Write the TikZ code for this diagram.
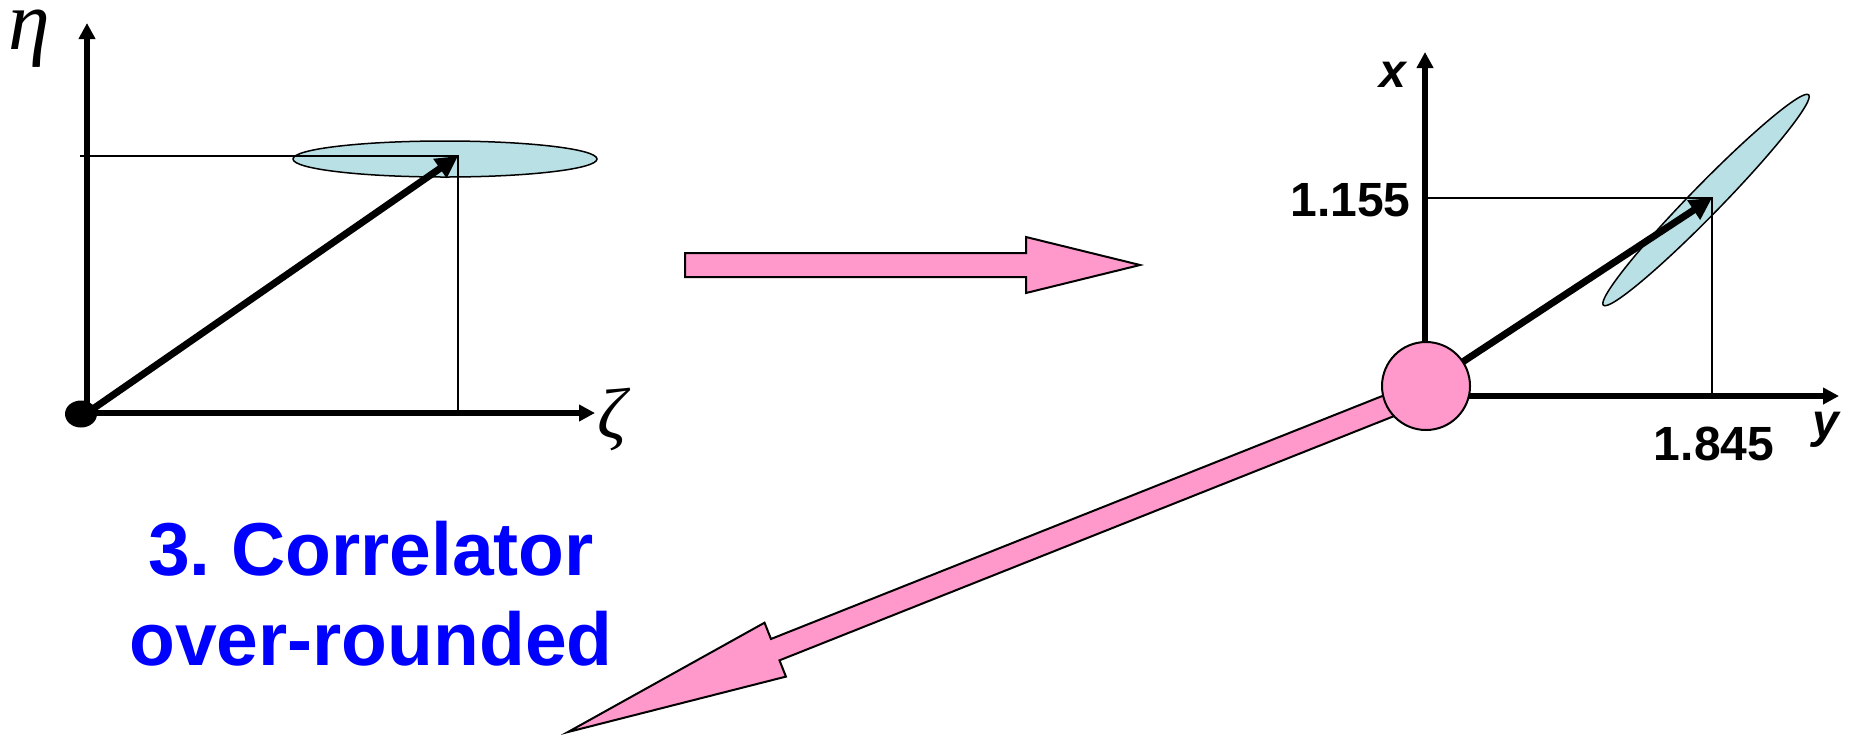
\documentclass[tikz,border=0pt]{standalone}
\usepackage{fontspec}
\setmainfont{Liberation Sans}
\newfontfamily\gregofont{Liberation Serif}
\usetikzlibrary{arrows.meta, calc}

\definecolor{rosa}{RGB}{255,153,204}
\definecolor{ciano}{RGB}{185,224,228}
\definecolor{azul}{RGB}{0,0,255}
\frenchspacing

\begin{document}
\begin{tikzpicture}[
      x=0.5pt, y=-0.5pt,
      eixo/.style={line width=2.75pt, -{Triangle[length=8pt, width=8pt]}},
      vetor/.style={line width=3.5pt, -{Triangle[length=11pt, width=11pt]}},
      fina/.style={line width=0.75pt},
      mancha/.style={draw, fill=ciano, line width=0.75pt},
      bloco/.style={draw, fill=rosa, line width=1pt, line join=miter},
      rotulo/.style={font=\fontsize{24}{28}\selectfont\bfseries, inner sep=0pt},
      grego/.style={font=\fontsize{36}{40}\selectfont\gregofont\itshape, inner sep=0pt},
      titulo/.style={font=\fontsize{37.5}{45}\selectfont\bfseries, text=azul,
                     align=center, inner sep=0pt}
    ]
    \useasboundingbox (0,0) rectangle (1855,735);
    % plano (zeta, eta)
    \coordinate (o1) at (87,413);
    \coordinate (p1) at (458,156);
    \draw[mancha] (445,159) ellipse [x radius=152, y radius=18];
    \draw[fina] (80,156) -- (p1) -- (458,413);
    \draw[eixo] (o1) -- (87,23);
    \draw[eixo] (o1) -- (595,413);
    \fill (81,414) ellipse [x radius=16, y radius=13.5];
    \draw[vetor] (o1) -- (p1);
    \node[grego, anchor=base, font=\fontsize{42}{46}\selectfont\gregofont\itshape]
      (eta) at (29,49) {η};
    \node[grego, anchor=base] (zeta) at (612,438) {ζ};
    % seta do meio
    \draw[bloco] (685,253) -- (1026,253) -- (1026,237) -- (1140,265)
      -- (1026,293) -- (1026,277) -- (685,277) -- cycle;
    % plano (y, x)
    \coordinate (o2) at (1425,396);
    \coordinate (cbola) at (1426,386);
    \coordinate (p2) at (1712,198);
    \draw[mancha, rotate around={45.7:(1706,200)}] (1706,200)
      ellipse [x radius=147, y radius=15];
    \draw[fina] (1424,198) -- (p2) -- (1712,396);
    \coordinate (cauda) at (1426,391);
    \coordinate (ponta) at (568,732);
    \coordinate (base) at ($(ponta)!111.5pt!(cauda)$);
    \draw[bloco] ($(cauda)!5.75pt!90:(ponta)$) -- ($(base)!5.75pt!-90:(cauda)$)
      -- ($(base)!14.5pt!-90:(cauda)$) -- (ponta) -- ($(base)!14.5pt!90:(cauda)$)
      -- ($(base)!5.75pt!90:(cauda)$) -- ($(cauda)!5.75pt!-90:(ponta)$) -- cycle;
    \draw[eixo] (o2) -- (1425,52);
    \draw[eixo] (o2) -- (1839,396);
    \draw[vetor] (cbola) -- (p2);
    \node[circle, draw, fill=rosa, line width=1pt, minimum size=44pt,
          inner sep=0pt] (bola) at (cbola) {};
    \node[rotulo, anchor=base] (rx) at (1393,87) {\itshape x};
    \node[rotulo, anchor=base] (ry) at (1826,437) {\itshape y};
    \node[rotulo, anchor=base east] (v1) at (1411,216) {1.155};
    \node[rotulo, anchor=base] (v2) at (1714,460) {1.845};
    \node[titulo] (legenda) at (371,594) {3. Correlator\\over-rounded};
  \end{tikzpicture}
\end{document}
